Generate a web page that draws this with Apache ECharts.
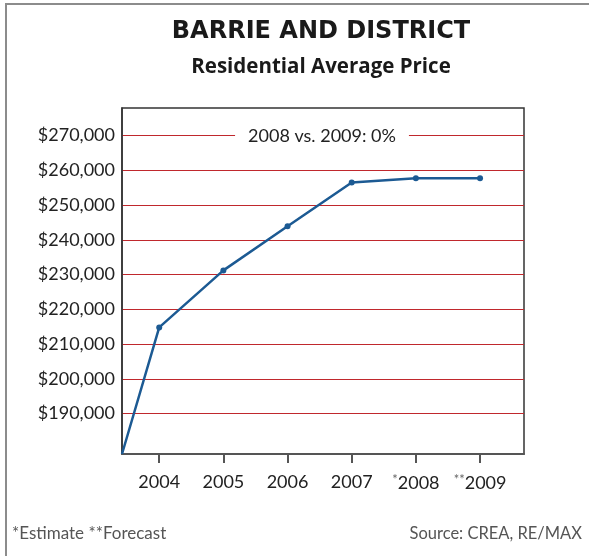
<!DOCTYPE html>
<html>
<head>
<meta charset="utf-8">
<script src="https://cdn.jsdelivr.net/npm/echarts@6/dist/echarts.min.js"></script>
<style>
  html, body { margin: 0; padding: 0; background: #fff; }
  #chart { width: 589px; height: 556px; }
</style>
</head>
<body>
<div id="chart"></div>
<script>
// values
var years = [2004, 2005, 2006, 2007, 2008, 2009];
var yearMarks = { 2008: '*', 2009: '**' };
var prices = [214800, 231200, 243900, 256500, 257700, 257700];
var priceTicks = [190000, 200000, 210000, 220000, 230000, 240000, 250000, 260000, 270000];
// the line starts from the corner of the axes
var xRange = [2003.42, 2009.685];
var yRange = [178400, 277900];

var font = 'Lato, "Open Sans", sans-serif';
var headFont = '"Open Sans", Lato, sans-serif';

var lineData = [{ value: [xRange[0], yRange[0]], symbol: 'none' }];
years.forEach(function (y, i) {
    lineData.push([y, prices[i]]);
});

var myChart = echarts.init(document.getElementById('chart'));
var option = {
    animation: false,
    title: [
        {
            text: 'BARRIE AND DISTRICT',
            left: 316, top: 15, textAlign: 'center',
            textStyle: { fontFamily: '"DejaVu Sans", sans-serif', fontSize: 24, fontWeight: 'bold', color: '#1a1a1a' }
        },
        {
            text: 'Residential Average Price',
            left: 316, top: 52, textAlign: 'center',
            textStyle: { fontFamily: headFont, fontSize: 20.5, fontWeight: 'bold', color: '#1a1a1a' }
        },
        {
            text: '*Estimate **Forecast',
            left: 7, top: 520,
            textStyle: { fontFamily: font, fontSize: 17, fontWeight: 'normal', color: '#555' }
        },
        {
            text: 'Source: CREA, RE/MAX',
            right: 2, top: 520,
            textStyle: { fontFamily: font, fontSize: 16.5, fontWeight: 'normal', color: '#555' }
        }
    ],
    grid: {
        left: 122, right: 65, top: 108, bottom: 102,
        outerBoundsMode: 'none',
        show: true,
        borderColor: '#333',
        borderWidth: 1.5
    },
    xAxis: {
        type: 'value',
        min: xRange[0],
        max: xRange[1],
        axisLine: { show: true, lineStyle: { color: '#555', width: 2 } },
        axisTick: { show: true, customValues: years, length: 9, lineStyle: { color: '#555', width: 2 } },
        axisLabel: {
            customValues: years,
            margin: 19,
            fontFamily: font,
            fontSize: 18,
            color: '#222',
            formatter: function (v) {
                return yearMarks[v] ? '{s|' + yearMarks[v] + '}' + v : String(v);
            },
            rich: {
                s: { fontFamily: font, fontSize: 13, color: '#666', verticalAlign: 'top', padding: [0, 0, 7, 0] }
            }
        },
        splitLine: { show: false }
    },
    yAxis: {
        type: 'value',
        min: yRange[0],
        max: yRange[1],
        axisLine: { show: true, lineStyle: { color: '#333', width: 1.5 } },
        axisTick: { show: false, customValues: priceTicks },
        axisLabel: {
            customValues: priceTicks,
            margin: 7,
            fontFamily: font,
            fontSize: 18,
            color: '#222',
            formatter: function (v) {
                return '$' + v.toLocaleString('en-US');
            }
        },
        splitLine: { show: true, lineStyle: { color: '#c0282d', width: 1 } }
    },
    graphic: [
        {
            type: 'rect',
            shape: { x: 6, y: 4, width: 700, height: 700 },
            style: { fill: 'none', stroke: '#8c8c8c', lineWidth: 2 },
            silent: true
        },
        {
            type: 'text',
            x: 322, y: 136,
            z: 100,
            style: {
                text: '2008 vs. 2009: 0%',
                align: 'center',
                verticalAlign: 'middle',
                font: '18px ' + font,
                fill: '#222',
                backgroundColor: '#fff',
                padding: [2, 13]
            }
        }
    ],
    series: [
        {
            type: 'line',
            data: lineData,
            symbol: 'circle',
            symbolSize: 6,
            z: 10,
            lineStyle: { color: '#1c5a93', width: 2.5 },
            itemStyle: { color: '#1c5a93' }
        }
    ]
};
myChart.setOption(option);
</script>
</body>
</html>
